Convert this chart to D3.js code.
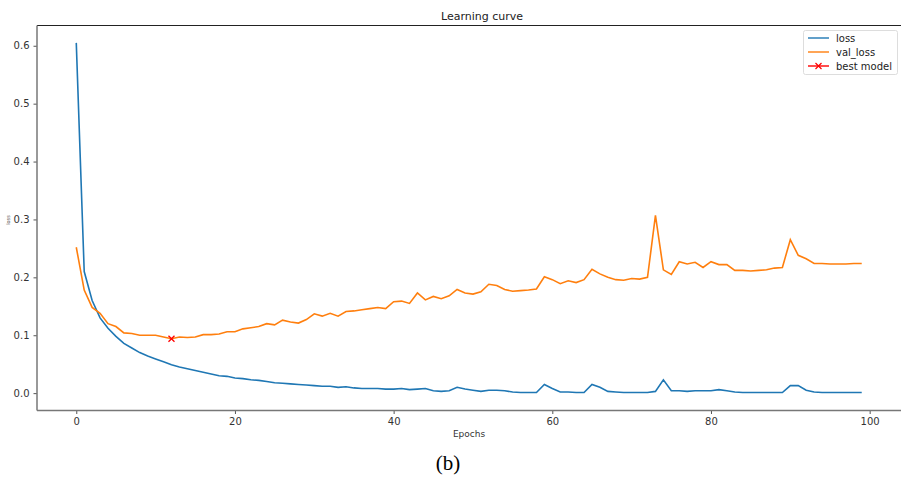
<!DOCTYPE html>
<html>
<head>
<meta charset="utf-8">
<script src="https://cdn.jsdelivr.net/npm/d3@7"></script>
<style>
  body { margin: 0; background: #fff; }
  svg text { font-family: "DejaVu Sans", sans-serif; }
</style>
</head>
<body>
<svg id="chart" width="901" height="477"></svg>
<script>
// loss per epoch (0..99)
var lossValues = [
  0.605, 0.21, 0.16, 0.13, 0.112, 0.098, 0.086, 0.078, 0.07, 0.064,
  0.059, 0.054, 0.049, 0.045, 0.042, 0.039, 0.036, 0.033, 0.030, 0.029,
  0.026, 0.025, 0.023, 0.022, 0.020, 0.018, 0.017, 0.016, 0.015, 0.014,
  0.013, 0.012, 0.012, 0.010, 0.011, 0.009, 0.008, 0.008, 0.008, 0.007,
  0.007, 0.008, 0.006, 0.007, 0.008, 0.004, 0.003, 0.004, 0.010, 0.007,
  0.005, 0.003, 0.005, 0.005, 0.004, 0.002, 0.001, 0.001, 0.001, 0.015,
  0.008, 0.002, 0.002, 0.001, 0.001, 0.015, 0.010, 0.003, 0.002, 0.001,
  0.001, 0.001, 0.001, 0.003, 0.023, 0.004, 0.004, 0.003, 0.004, 0.004,
  0.004, 0.006, 0.004, 0.002, 0.001, 0.001, 0.001, 0.001, 0.001, 0.001,
  0.013, 0.013, 0.005, 0.002, 0.001, 0.001, 0.001, 0.001, 0.001, 0.001
];
// validation loss per epoch
var valLossValues = [
  0.252, 0.178, 0.148, 0.138, 0.12, 0.115, 0.104, 0.103, 0.1, 0.1,
  0.1, 0.097, 0.094, 0.097, 0.096, 0.097, 0.101, 0.101, 0.102, 0.106,
  0.106, 0.111, 0.113, 0.115, 0.12, 0.118, 0.126, 0.123, 0.121, 0.127,
  0.137, 0.133, 0.138, 0.133, 0.141, 0.142, 0.144, 0.146, 0.148, 0.146,
  0.158, 0.159, 0.155, 0.173, 0.161, 0.167, 0.163, 0.168, 0.179, 0.173,
  0.171, 0.175, 0.188, 0.186, 0.179, 0.176, 0.177, 0.178, 0.18, 0.201,
  0.196, 0.189, 0.194, 0.191, 0.196, 0.214, 0.206, 0.2, 0.196, 0.195,
  0.198, 0.197, 0.2, 0.307, 0.213, 0.205, 0.227, 0.223, 0.226, 0.217,
  0.227, 0.222, 0.222, 0.212, 0.212, 0.211, 0.212, 0.213, 0.216, 0.217,
  0.265, 0.238, 0.232, 0.224, 0.224, 0.223, 0.223, 0.223, 0.224, 0.224
];
var bestEpoch = 12;
var xTicks = [0, 20, 40, 60, 80, 100];
var yTicks = [0.0, 0.1, 0.2, 0.3, 0.4, 0.5, 0.6];
var legendLabels = ["loss", "val_loss", "best model"];

var loss = lossValues.map(function(v, i){ return {epoch: i, value: v}; });
var valLoss = valLossValues.map(function(v, i){ return {epoch: i, value: v}; });

var svg = d3.select("#chart"),
    plotLeft = 37, plotRight = 901, plotTop = 25.5, plotBottom = 410.5;

var xScale = d3.scaleLinear().domain([-4.95, 103.95]).range([plotLeft, plotRight]);
var yScale = d3.scaleLinear().domain([-0.03, 0.635]).range([plotBottom, plotTop]);

// lines
var line = d3.line()
  .x(function(d){ return xScale(d.epoch); })
  .y(function(d){ return yScale(d.value); });

svg.append("path").datum(loss)
  .attr("d", line)
  .style("fill", "none").style("stroke", "#1f77b4").style("stroke-width", 1.6);

svg.append("path").datum(valLoss)
  .attr("d", line)
  .style("fill", "none").style("stroke", "#ff7f0e").style("stroke-width", 1.6);

// best model marker
var bx = xScale(bestEpoch), by = yScale(valLossValues[bestEpoch]);
svg.append("path")
  .attr("d", "M" + (bx-3) + "," + (by-3) + "L" + (bx+3) + "," + (by+3) + "M" + (bx-3) + "," + (by+3) + "L" + (bx+3) + "," + (by-3))
  .style("stroke", "red").style("stroke-width", 1.3);

// axes
var xAxis = svg.append("g")
  .attr("transform", "translate(0," + plotBottom + ")")
  .call(d3.axisBottom(xScale).tickValues(xTicks).tickSize(3.5).tickPadding(4).tickFormat(d3.format("d")));
var yAxis = svg.append("g")
  .attr("transform", "translate(" + plotLeft + ",0)")
  .call(d3.axisLeft(yScale).tickValues(yTicks).tickSize(3.5).tickPadding(4).tickFormat(d3.format(".1f")));

[xAxis, yAxis].forEach(function(a){
  a.select(".domain").remove();
  a.selectAll(".tick line").style("stroke", "#555");
  a.selectAll(".tick text").style("font-size", "10px").style("fill", "#333")
   .style("font-family", "DejaVu Sans, sans-serif");
});

// frame
svg.append("line").attr("x1", plotLeft).attr("x2", plotRight).attr("y1", plotTop).attr("y2", plotTop)
  .style("stroke", "#222").style("stroke-width", 1.2);
svg.append("line").attr("x1", plotLeft).attr("x2", plotRight).attr("y1", plotBottom).attr("y2", plotBottom)
  .style("stroke", "#777").style("stroke-width", 1.5);
svg.append("line").attr("x1", plotLeft).attr("x2", plotLeft).attr("y1", plotTop).attr("y2", plotBottom)
  .style("stroke", "#777").style("stroke-width", 1.5);

// title and labels
svg.append("text").attr("x", 482).attr("y", 20).attr("text-anchor", "middle")
  .style("font-size", "11px").style("fill", "#222").text("Learning curve");
svg.append("text").attr("x", 469).attr("y", 437).attr("text-anchor", "middle")
  .style("font-size", "9px").style("fill", "#333").text("Epochs");
svg.append("text").attr("transform", "translate(10,220)rotate(-90)").attr("text-anchor", "middle")
  .style("font-size", "5px").style("fill", "#555").text("loss");
svg.append("text").attr("x", 448).attr("y", 470).attr("text-anchor", "middle")
  .style("font-family", "Liberation Serif, serif").style("font-size", "21px").style("fill", "#000").text("(b)");

// legend
var lg = svg.append("g");
lg.append("rect").attr("x", 803.5).attr("y", 30.5).attr("width", 94).attr("height", 44)
  .attr("rx", 2).style("fill", "#fff").style("stroke", "#ddd");
var legendColors = ["#1f77b4", "#ff7f0e", "red"];
legendLabels.forEach(function(t, i){
  var yy = 38 + i * 14;
  lg.append("line").attr("x1", 808).attr("x2", 829).attr("y1", yy).attr("y2", yy)
    .style("stroke", legendColors[i]).style("stroke-width", 1.4);
  if (i === 2) {
    lg.append("path").attr("d", "M815.5," + (yy-3) + "L821.5," + (yy+3) + "M815.5," + (yy+3) + "L821.5," + (yy-3))
      .style("stroke", "red").style("stroke-width", 1.2);
  }
  lg.append("text").attr("x", 836).attr("y", yy + 3.5)
    .style("font-size", "10px").style("fill", "#222").text(t);
});
</script>
</body>
</html>
